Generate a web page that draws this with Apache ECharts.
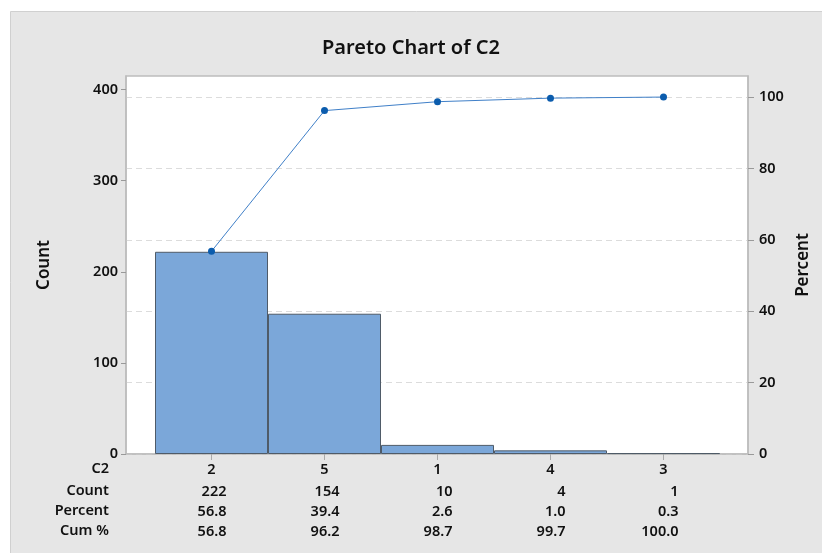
<!DOCTYPE html>
<html lang="en">

<head>
    <meta charset="UTF-8">
    <title>Pareto Chart of C2</title>
    <script src="https://cdn.jsdelivr.net/npm/echarts@6/dist/echarts.min.js"></script>
    <style>
        html, body { margin: 0; padding: 0; background: #fff; }
    </style>
</head>

<body>
    <div id="main" style="width: 822px;height: 553px;"></div>
    <script type="text/javascript">
        // data
        var categories = ['2', '5', '1', '4', '3'];
        var counts = [222, 154, 10, 4, 1];
        var percents = ['56.8', '39.4', '2.6', '1.0', '0.3'];
        var cumPercents = ['56.8', '96.2', '98.7', '99.7', '100.0'];
        var rowHeads = ['C2', 'Count', 'Percent', 'Cum %'];
        var countTicks = [0, 100, 200, 300, 400];
        var percentTicks = [0, 20, 40, 60, 80, 100];

        var FONT = 'Noto Sans';
        var W = 600; // semibold look
        var countMax = 415;
        var pctMax = 105.9;

        var myChart = echarts.init(document.getElementById('main'));

        // row titles on the left of the table
        var heads = rowHeads.map(function (t, i) {
            return {
                type: 'text',
                right: 822 - 109,
                top: [461, 483, 503, 523][i],
                style: {
                    text: t,
                    font: W + ' 14.5px "' + FONT + '"',
                    fill: '#111',
                    align: 'right'
                }
            };
        });

        var option = {
            backgroundColor: '#fff',
            textStyle: { fontFamily: FONT },
            title: {
                text: 'Pareto Chart of C2',
                left: 'center',
                top: 33,
                textStyle: { fontSize: 20, fontWeight: W, color: '#111' }
            },
            graphic: [{
                type: 'rect',
                z: -10,
                silent: true,
                shape: { x: 10.5, y: 11.5, width: 820, height: 550 },
                style: { fill: '#e6e6e6', stroke: '#d0d0d0', lineWidth: 1 }
            }].concat(heads),
            grid: [{
                // plot frame
                left: 126, right: 74, top: 76, bottom: 99,
                show: true,
                backgroundColor: '#fff',
                borderColor: '#bdbdbd',
                borderWidth: 1.5
            }, {
                // bars sit inside with a small gap on both sides
                left: 155, right: 102, top: 76, bottom: 99
            }],
            xAxis: [{
                gridIndex: 0,
                type: 'value',
                min: 0, max: 1,
                axisLine: { show: true, lineStyle: { color: '#bdbdbd', width: 1.5 } },
                axisTick: { show: false },
                axisLabel: { show: false },
                splitLine: { show: false }
            }, {
                gridIndex: 1,
                type: 'category',
                data: categories,
                axisLine: { show: false },
                axisTick: { show: true, alignWithLabel: true, length: 6, lineStyle: { color: '#aaa' } },
                axisLabel: {
                    margin: 4,
                    interval: 0,
                    formatter: function (v, i) {
                        return '{c|' + v + '}\n{v|' + counts[i] + '}\n{v|' + percents[i] + '}\n{v|' + cumPercents[i] + '}';
                    },
                    rich: {
                        c: { width: 30, align: 'center', lineHeight: 24, fontSize: 14.5, fontWeight: W, color: '#111', fontFamily: FONT },
                        v: { width: 30, align: 'right', lineHeight: 20, fontSize: 14.5, fontWeight: W, color: '#111', fontFamily: FONT }
                    }
                }
            }],
            yAxis: [{
                gridIndex: 0,
                type: 'value',
                position: 'left',
                min: 0, max: countMax, interval: 100,
                name: 'Count',
                nameLocation: 'middle',
                nameRotate: 90,
                nameGap: 73,
                nameTextStyle: { fontSize: 17, fontWeight: W, color: '#111' },
                axisLine: { show: true, lineStyle: { color: '#bdbdbd', width: 1.5 } },
                axisTick: { show: true, length: 5, customValues: countTicks, lineStyle: { color: '#999' } },
                axisLabel: { margin: 8, fontSize: 14.5, fontWeight: W, color: '#111', customValues: countTicks },
                splitLine: { show: false }
            }, {
                gridIndex: 0,
                type: 'value',
                position: 'right',
                min: 0, max: pctMax, interval: 20,
                name: 'Percent',
                nameLocation: 'middle',
                nameRotate: 90,
                nameGap: 41,
                nameTextStyle: { fontSize: 17, fontWeight: W, color: '#111' },
                axisLine: { show: true, lineStyle: { color: '#bdbdbd', width: 1.5 } },
                axisTick: { show: true, length: 6, customValues: percentTicks, lineStyle: { color: '#999' } },
                axisLabel: { margin: 11, fontSize: 14.5, fontWeight: W, color: '#111', customValues: percentTicks },
                splitLine: { show: true, lineStyle: { color: '#dcdcdc', type: [6, 4], width: 1 } }
            }, {
                gridIndex: 1,
                type: 'value',
                min: 0, max: countMax,
                show: false
            }, {
                gridIndex: 1,
                type: 'value',
                min: 0, max: pctMax,
                show: false
            }],
            series: [{
                type: 'bar',
                xAxisIndex: 1,
                yAxisIndex: 2,
                data: counts,
                barWidth: '100%',
                barCategoryGap: 0,
                itemStyle: { color: '#7ba7d9', borderColor: '#4f5b68', borderWidth: 1 },
                z: 2
            }, {
                type: 'line',
                xAxisIndex: 1,
                yAxisIndex: 3,
                data: cumPercents.map(Number),
                symbol: 'circle',
                symbolSize: 7,
                lineStyle: { color: '#4080c8', width: 1 },
                itemStyle: { color: '#0b5cad' },
                z: 3
            }]
        };

        myChart.setOption(option);
    </script>
</body>

</html>
